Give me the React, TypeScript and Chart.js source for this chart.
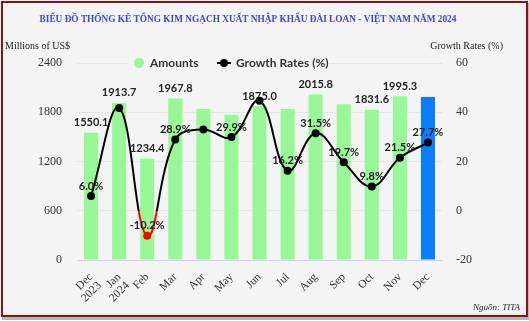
import React, { useEffect, useRef } from "react";
import { Chart, registerables } from "chart.js";

Chart.register(...registerables);

const categories: (string | string[])[] = [
  ["Dec", "2023"], ["Jan", "2024"], "Feb", "Mar", "Apr", "May", "Jun",
  "Jul", "Aug", "Sep", "Oct", "Nov", "Dec",
];
const amounts = [1550.1, 1913.7, 1234.4, 1967.8, 1840, 1770, 1875.0, 1840, 2015.8, 1897, 1831.6, 1995.3, 1985];
const growthRates = [6.0, 41.7, -10.2, 28.9, 33.0, 29.9, 44.7, 16.2, 31.5, 19.7, 9.8, 21.5, 27.7];
const amountLabelShown = [true, true, true, true, false, false, true, false, true, false, true, true, false];
const growthLabelShown = [true, false, true, true, false, true, false, true, true, true, true, true, true];
const leftTicks = { min: 0, max: 2400, step: 600 };
const rightTicks = { min: -20, max: 60, step: 20 };

const TITLE = "BIỂU ĐỒ THỐNG KÊ TỔNG KIM NGẠCH XUẤT NHẬP KHẨU ĐÀI LOAN - VIỆT NAM NĂM 2024";
const LEFT_TITLE = "Millions of US$";
const RIGHT_TITLE = "Growth Rates (%)";
const SOURCE = "Nguồn: TITA";
const LEGEND_AMOUNTS = "Amounts";
const LEGEND_GROWTH = "Growth Rates (%)";

const GREEN = "#98f898";
const BLUE = "#0a7cff";
const SERIF = "'Liberation Serif', 'Times New Roman', serif";
const SANS = "Lato, 'DejaVu Sans', sans-serif";

const barColors = amounts.map((_, i) => (i === amounts.length - 1 ? BLUE : GREEN));
const pointColors = growthRates.map((v) => (v < 0 ? "#ff0000" : "#000000"));

const framePlugin = {
  id: "frame",
  beforeDraw(chart: any) {
    const ctx = chart.ctx;
    ctx.save();
    ctx.fillStyle = "#ffffff";
    ctx.fillRect(0, 0, chart.width, chart.height);
    ctx.fillStyle = "#b8b8b8";
    ctx.fillRect(2, 3, 527, 317);
    ctx.fillStyle = "#f4f4f4";
    ctx.fillRect(1, 1, 527, 316);
    ctx.strokeStyle = "#8c1414";
    ctx.lineWidth = 2;
    ctx.strokeRect(2, 2, 525, 314);
    ctx.restore();
  },
};

const labelsPlugin = {
  id: "labels",
  afterDatasetsDraw(chart: any) {
    const ctx = chart.ctx;
    ctx.save();
    ctx.font = `bold 11px ${SANS}`;
    ctx.fillStyle = "#222";
    ctx.textAlign = "center";
    ctx.textBaseline = "middle";
    const barMeta = chart.getDatasetMeta(0);
    barMeta.data.forEach((el: any, i: number) => {
      if (!amountLabelShown[i]) return;
      ctx.fillText(amounts[i].toFixed(1), el.x, el.y - 10);
    });
    const lineMeta = chart.getDatasetMeta(1);
    lineMeta.data.forEach((el: any, i: number) => {
      if (!growthLabelShown[i]) return;
      ctx.fillText(growthRates[i].toFixed(1) + "%", el.x, el.y - 10);
    });
    ctx.restore();
  },
};

const decorPlugin = {
  id: "decor",
  afterDraw(chart: any) {
    const ctx = chart.ctx;
    ctx.save();
    // title
    ctx.font = `bold 9.3px ${SERIF}`;
    ctx.fillStyle = "#3a47e0";
    ctx.textAlign = "center";
    ctx.textBaseline = "middle";
    ctx.fillText(TITLE, 248, 20);
    // axis titles
    ctx.font = `10px ${SERIF}`;
    ctx.fillStyle = "#222";
    ctx.textAlign = "left";
    ctx.fillText(LEFT_TITLE, 5, 46);
    ctx.textAlign = "right";
    ctx.fillText(RIGHT_TITLE, 503, 46);
    // source
    ctx.font = `italic 9px ${SERIF}`;
    ctx.textAlign = "right";
    ctx.fillText(SOURCE, 520, 308);
    // legend
    const ly = chart.chartArea.top;
    ctx.fillStyle = "#f4f4f4";
    ctx.fillRect(128, ly - 8, 203, 16);
    ctx.fillStyle = GREEN;
    ctx.beginPath();
    ctx.arc(139, ly, 5, 0, Math.PI * 2);
    ctx.fill();
    ctx.font = `bold 12px ${SANS}`;
    ctx.fillStyle = "#333";
    ctx.textAlign = "left";
    ctx.fillText(LEGEND_AMOUNTS, 150, ly + 0.5);
    ctx.strokeStyle = "#000";
    ctx.lineWidth = 2;
    ctx.beginPath();
    ctx.moveTo(217, ly);
    ctx.lineTo(231, ly);
    ctx.stroke();
    ctx.fillStyle = "#000";
    ctx.beginPath();
    ctx.arc(224, ly, 4, 0, Math.PI * 2);
    ctx.fill();
    ctx.fillStyle = "#333";
    ctx.fillText(LEGEND_GROWTH, 236, ly + 0.5);
    ctx.restore();
  },
};

function lineGradient(context: any) {
  const chart = context.chart;
  const area = chart.chartArea;
  if (!area) return "#000";
  const y0 = chart.scales.y1.getPixelForValue(0);
  const g = chart.ctx.createLinearGradient(0, area.top, 0, area.bottom);
  const stop = Math.min(1, Math.max(0, (y0 - area.top) / (area.bottom - area.top)));
  g.addColorStop(0, "#000");
  g.addColorStop(stop, "#000");
  g.addColorStop(stop, "#ff0000");
  g.addColorStop(1, "#ff0000");
  return g;
}

export default function App() {
  const ref = useRef<HTMLCanvasElement>(null);
  useEffect(() => {
    document.body.style.margin = "0";
    const canvas = ref.current!;
    const chart = new Chart(canvas, {
      type: "bar",
      data: {
        labels: categories,
        datasets: [
          {
            type: "bar",
            label: LEGEND_AMOUNTS,
            data: amounts,
            backgroundColor: barColors,
            borderWidth: 0,
            barPercentage: 0.5,
            categoryPercentage: 1,
            yAxisID: "y",
            order: 1,
          },
          {
            type: "line",
            label: LEGEND_GROWTH,
            data: growthRates,
            borderColor: lineGradient as any,
            borderWidth: 2,
            tension: 0.4,
            pointRadius: 4,
            pointBackgroundColor: pointColors,
            pointBorderWidth: 0,
            yAxisID: "y1",
            order: 0,
          } as any,
        ],
      },
      options: {
        animation: false,
        responsive: false,
        devicePixelRatio: 1,
        layout: { padding: { top: 63, left: 0, right: 0, bottom: 0 } },
        plugins: {
          legend: { display: false },
          title: { display: false },
          tooltip: { enabled: false },
        },
        scales: {
          x: {
            grid: { display: false },
            border: { color: "#ccd6eb" },
            ticks: {
              font: { family: SERIF, size: 11.5, lineHeight: 1.05 },
              color: "#333",
              maxRotation: 45,
              minRotation: 45,
              autoSkip: false,
              padding: 3,
            },
            afterFit: (s: any) => { s.height = 61; },
          },
          y: {
            position: "left",
            min: leftTicks.min,
            max: leftTicks.max,
            ticks: {
              stepSize: leftTicks.step,
              font: { family: SERIF, size: 12 },
              color: "#333",
              padding: 15,
              callback: (v: any) => String(v),
            },
            grid: { color: "#e6e6e6", drawTicks: false },
            border: { display: false },
            afterFit: (s: any) => { s.width = 77; },
          },
          y1: {
            position: "right",
            min: rightTicks.min,
            max: rightTicks.max,
            ticks: {
              stepSize: rightTicks.step,
              font: { family: SERIF, size: 12 },
              color: "#333",
              padding: 14,
              callback: (v: any) => String(v),
            },
            grid: { display: false, drawTicks: false },
            border: { display: false },
            afterFit: (s: any) => { s.width = 87; },
          },
        },
      },
      plugins: [framePlugin, labelsPlugin, decorPlugin],
    });
    return () => chart.destroy();
  }, []);
  return <canvas ref={ref} width={529} height={321} style={{ display: "block", width: 529, height: 321 }} />;
}
